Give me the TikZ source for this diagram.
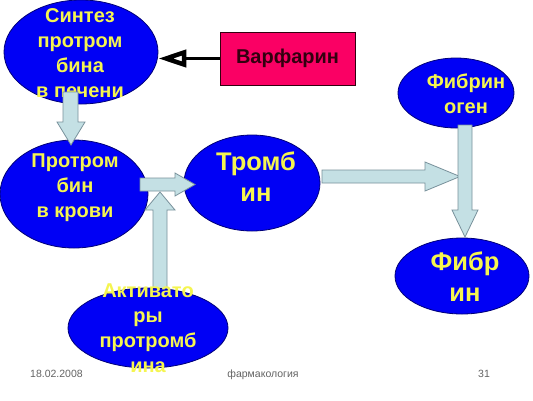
\documentclass[tikz,border=0pt]{standalone}
\usepackage{fontspec}
\setmainfont{Liberation Sans}
\usetikzlibrary{shapes.geometric,arrows.meta}
\definecolor{ellblue}{RGB}{0,0,245}
\definecolor{ellline}{RGB}{0,0,120}
\definecolor{txtyellow}{RGB}{245,245,80}
\definecolor{arrfill}{RGB}{196,224,228}
\definecolor{arrline}{RGB}{120,145,155}
\definecolor{warffill}{RGB}{250,0,100}
\definecolor{warftext}{RGB}{50,0,15}
\definecolor{footgray}{RGB}{100,100,100}
\begin{document}
\begin{tikzpicture}[x=1pt,y=-1pt,
  blob/.style={ellipse, fill=ellblue, draw=ellline, line width=0.8pt, inner sep=0pt},
  lbl/.style={text=txtyellow, align=center, font=\bfseries\fontsize{20}{25}\selectfont, inner sep=0pt},
  biglbl/.style={text=txtyellow, align=center, font=\bfseries\fontsize{25.5}{31}\selectfont, inner sep=0pt},
  barrow/.style={fill=arrfill, draw=arrline, line width=0.8pt, line join=miter},
  foot/.style={text=footgray, font=\fontsize{10.5}{12}\selectfont, inner sep=0pt}]
\useasboundingbox (0,0) rectangle (533,400);
\fill[white] (0,0) rectangle (533,400);

% ellipses
\node[blob, minimum width=154pt, minimum height=104pt] (synth) at (81,52) {};
\node[lbl] (synthT) at (80,53) {Синтез\\протром\\бина\\в печени};
\node[blob, minimum width=148pt, minimum height=108pt] (prot) at (74,194) {};
\node[lbl] (protT) at (75,188) {Протром\\бин\\в крови};
\node[blob, minimum width=136pt, minimum height=96pt] (throm) at (252,183) {};
\node[biglbl] (thromT) at (256,177) {Тромб\\ин};
\node[blob, minimum width=116pt, minimum height=70pt] (fgen) at (456,93) {};
\node[lbl] (fgenT) at (466,94) {Фибрин\\оген};
\node[blob, minimum width=134pt, minimum height=76pt] (fib) at (462,276) {};
\node[biglbl] (fibT) at (465,277) {Фибр\\ин};

% Warfarin
\node[rectangle, fill=warffill, draw=warftext, line width=0.5pt,
      minimum width=135pt, minimum height=53pt, inner sep=0pt,
      text=warftext, font=\bfseries\fontsize{20}{24}\selectfont] (warf) at (287.5,58.5) {Варфарин};
\draw[line width=2.8pt, -{Triangle[open, length=28pt, width=17pt, line width=4.5pt]}]
  (warf.west) -- (warf.west -| synth.east);

% block arrows
\draw[barrow] (63,92) -- (78,92) -- (78,122) -- (85,122) -- (71,145) -- (57,122) -- (63,122) -- cycle;
\draw[barrow] (140,178) -- (175,178) -- (175,173) -- (195,184.5) -- (175,196) -- (175,191) -- (140,191) -- cycle;
\draw[barrow] (322,170) -- (425,170) -- (425,162) -- (460,176.5) -- (425,191) -- (425,183) -- (322,183) -- cycle;
\draw[barrow] (458,125) -- (472,125) -- (472,210) -- (478,210) -- (465,237) -- (452,210) -- (458,210) -- cycle;
\draw[barrow] (153,300) -- (153,210) -- (145,210) -- (160,192) -- (175,210) -- (167,210) -- (167,300) -- cycle;

% activators
\node[blob, minimum width=160pt, minimum height=80pt] (act) at (148,328) {};
\node[lbl] (actT) at (148,328) {Активато\\ры\\протромб\\ина};

% footer
\node[foot, anchor=base west] (date) at (30,377) {18.02.2008};
\node[foot, anchor=base] (subj) at (263,377) {фармакология};
\node[foot, anchor=base] (page) at (484,377) {31};
\end{tikzpicture}
\end{document}
